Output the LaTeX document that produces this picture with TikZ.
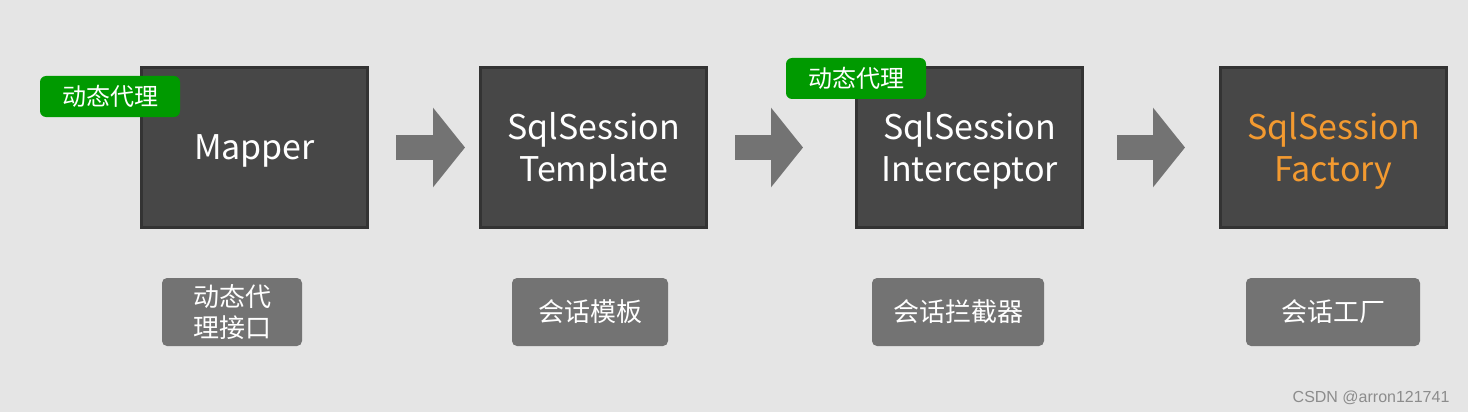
\documentclass[tikz,border=0pt]{standalone}
\usepackage{fontspec}
\setmainfont{Noto Sans CJK SC}
\newfontfamily\markfont{Liberation Sans}
\usetikzlibrary{arrows.meta}
\definecolor{bg}{HTML}{E5E5E5}
\definecolor{boxfill}{HTML}{474747}
\definecolor{boxline}{HTML}{333333}
\definecolor{taggreen}{HTML}{009A00}
\definecolor{labelgray}{HTML}{737373}
\definecolor{factory}{HTML}{F39A30}
\newcommand\sink[1]{\raisebox{-3pt}[\height][\depth]{#1}}
\begin{document}
\begin{tikzpicture}[x=1pt,y=-1pt,
    stage/.style={draw=boxline,line width=3pt,fill=boxfill,text=white,
      minimum width=226pt,minimum height=160pt,align=center,
      font=\fontsize{34}{42}\selectfont},
    tag/.style={fill=taggreen,text=white,rounded corners=6pt,
      minimum width=140pt,minimum height=41pt,inner sep=0pt,
      font=\fontsize{24}{28}\selectfont},
    caption/.style={fill=labelgray,text=white,rounded corners=5pt,
      minimum height=68pt,inner sep=0pt,align=center,
      font=\fontsize{26}{31}\selectfont},
    flow/.style={draw=labelgray,line width=25pt,
      -{Triangle[width=78pt,length=32pt]}}]
      \fill[bg] (0,0) rectangle (1468,412);
      \path
        (254.5,147.5) node[stage] (mapper){\sink{Mapper}}
        (593.5,147.5) node[stage] (template){\sink{SqlSession}\\\sink{Template}}
        (969.5,147.5) node[stage] (interceptor){\sink{SqlSession}\\\sink{Interceptor}}
        (1333.5,147.5) node[stage,text=factory] (factory){\sink{SqlSession}\\\sink{Factory}};
      \begin{scope}[-]
        \draw[flow,shorten <=27pt,shorten >=14pt] (mapper) to (template);
        \draw[flow,shorten <=27pt,shorten >=52pt] (template) to (interceptor);
        \draw[flow,shorten <=33pt,shorten >=34pt] (interceptor) to (factory);
      \end{scope}
      \path
        (110,96.5) node[tag] (proxy1){动态代理}
        (856,78.5) node[tag] (proxy2){动态代理};
      \path
        (232,312) node[caption,minimum width=140pt] (mapperlabel){动态代\\理接口}
        (590,312) node[caption,minimum width=156pt] (templatelabel){会话模板}
        (958,312) node[caption,minimum width=172pt] (interceptorlabel){会话拦截器}
        (1333,312) node[caption,minimum width=174pt] (factorylabel){会话工厂};
      \node[anchor=base east,text=black!45,font=\markfont\fontsize{16}{18}\selectfont]
        (mark) at (1453,402) {CSDN @arron121741};
    \end{tikzpicture}
\end{document}
